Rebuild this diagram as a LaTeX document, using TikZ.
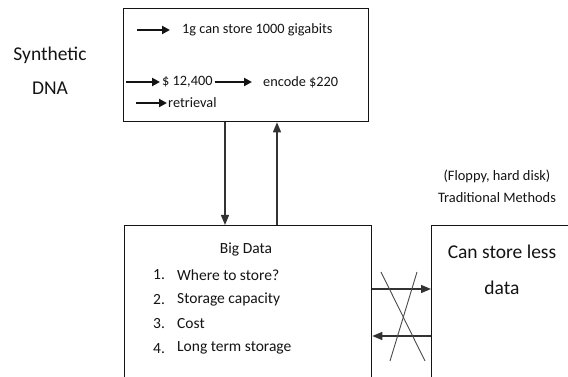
\documentclass[tikz,border=0pt]{standalone}
\usepackage{fontspec}
\setmainfont{Carlito}
\usetikzlibrary{positioning,arrows.meta}
\definecolor{ink}{HTML}{141414}
\definecolor{wire}{HTML}{333333}
\definecolor{cross}{HTML}{4A4A4A}
\tikzset{
  panel/.style   ={draw=ink, line width=1.3pt, fill=white, inner sep=0pt, anchor=north west},
  note/.style    ={font=\fontsize{#1}{#1}\selectfont, text=ink, inner sep=0pt},
  stack/.style 2 args={font=\fontsize{#1}{#2}\selectfont, text=ink, inner sep=0pt, align=center},
  tinyarr/.style ={-{Triangle[length=8pt,width=8pt]}, line width=2pt, ink},
  flowarr/.style ={-{Triangle[length=10pt,width=8pt]}, line width=1.3pt, wire},
  crossln/.style ={line width=0.9pt, cross},
}

\begin{document}
\begin{tikzpicture}[x=1pt,y=-1pt]
\clip (0,0) rectangle (568,377);
\fill[white] (0,0) rectangle (568,377);
% boxes
\node[panel, minimum width=245pt, minimum height=113pt] (dnabox) at (123,8) {};
\node[panel, minimum width=247pt, minimum height=200pt] (big) at (124,225) {};
\node[panel, minimum width=200pt, minimum height=200pt] (less) at (431,225) {};
% side labels
\node[stack={19.5}{34}] (dna) at (50,71) {Synthetic\\DNA};
\node[stack={14.4}{22}] (trad) at (497,186) {(Floppy, hard disk)\\Traditional Methods};
% synthetic DNA facts
\coordinate (s1) at (137,30);
\coordinate (s2) at (126,82);
\coordinate (s3) at (136,103);
\node[note=14.3, anchor=west] (gbits) at (182,30) {1g can store 1000 gigabits};
\node[note=14.3, anchor=west] (price) at (162,82) {\$ 12,400};
\node[note=14.3, anchor=west] (encode) at (263,82) {encode \$220};
\node[note=14.3, anchor=west] (retr) at (168,103) {retrieval};
\draw[tinyarr, shorten >=12pt] (s1) -- (gbits.west);
\draw[tinyarr, shorten >=2pt] (s2) -- (price.west);
\draw[tinyarr, shorten <=2pt, shorten >=11pt] (price) -- (encode);
\draw[tinyarr, shorten >=1pt] (s3) -- (retr.west);
% big data
\node[note=15.5] (bdtitle) at (246,249) {Big Data};
\foreach \i/\t in {1/Where to store?, 2/Storage capacity, 3/Cost, 4/Long term storage} {
  \node[note=15.5, anchor=west] (num\i) at (153,{275+(\i-1)*24.4}) {\i.};
  \node[note=15.5, anchor=west] (item\i) at (177,{275+(\i-1)*24.4}) {\t};
}
% traditional
\node[stack={19.5}{36}] (lesstxt) at (502,270) {Can store less\\data};
% links
\coordinate (down) at (225,0);
\coordinate (up) at (277,0);
\coordinate (fwd) at (0,289);
\coordinate (back) at (0,336);
\draw[flowarr] (dnabox.south -| down) -- (big.north -| down);
\draw[flowarr] (big.north -| up) -- (dnabox.south -| up);
\draw[flowarr] (big.east |- fwd) -- (less.west |- fwd);
\draw[flowarr] (less.west |- back) -- (big.east |- back);
% crossed out
\coordinate (c1) at (381,272);
\coordinate (c2) at (425,361);
\coordinate (c3) at (417,272);
\coordinate (c4) at (390,361);
\draw[crossln] (c1) -- (c2);
\draw[crossln] (c3) -- (c4);
\end{tikzpicture}
\end{document}
